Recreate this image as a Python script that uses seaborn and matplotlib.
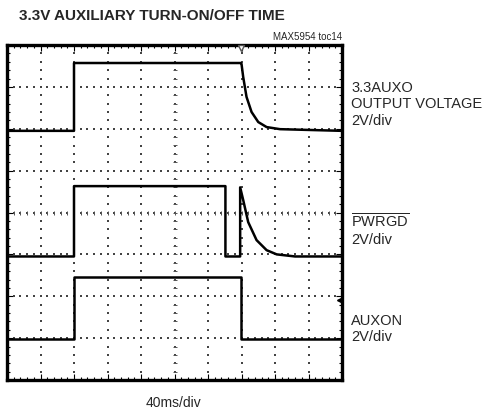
import numpy as np
import pandas as pd
import matplotlib
matplotlib.use("Agg")
import matplotlib.pyplot as plt
import seaborn as sns
from matplotlib import font_manager

# scope traces in divisions (x: 0-10 div, y: 0-8 div)
auxo_t = [0.0, 2.0, 2.0, 6.98, 7.0, 7.05, 7.15, 7.30, 7.50, 7.75, 8.15, 10.0]
auxo_v = [5.95, 5.95, 7.57, 7.57, 7.55, 7.24, 6.76, 6.40, 6.16, 6.04, 5.99, 5.95]

pwrgd_t = [0.0, 2.0, 2.0, 6.52, 6.52, 6.96, 6.96, 7.05, 7.20, 7.45, 7.75, 8.05, 8.6, 10.0]
pwrgd_v = [2.95, 2.95, 4.63, 4.63, 2.95, 2.95, 4.60, 4.30, 3.77, 3.34, 3.10, 3.00, 2.95, 2.95]

auxon_t = [0.0, 2.0, 2.0, 6.98, 6.98, 10.0]
auxon_v = [0.97, 0.97, 2.46, 2.46, 0.97, 0.97]

title = "3.3V AUXILIARY TURN-ON/OFF TIME"
note = "MAX5954 toc14"
labels = [("3.3AUXO\nOUTPUT VOLTAGE\n2V/div", 6.58), ("$\\overline{\\mathrm{PWRGD}}$\n2V/div", 3.58), ("AUXON\n2V/div", 1.22)]
xlabel = "40ms/div"

sns.set_style("white")
plt.rcParams['font.family'] = ['Liberation Sans', 'DejaVu Sans']
plt.rcParams['mathtext.fontset'] = 'custom'
plt.rcParams['mathtext.rm'] = 'Liberation Sans'

# narrow bold face for the title if it is there
names = {f.name for f in font_manager.fontManager.ttflist}
if 'Liberation Sans Narrow' in names:
    title_font = dict(family='Liberation Sans Narrow', fontsize=13)
else:
    title_font = dict(family='Liberation Sans', fontsize=11)

df = pd.concat([
    pd.DataFrame({"t": auxo_t, "v": auxo_v, "trace": "AUXO"}),
    pd.DataFrame({"t": pwrgd_t, "v": pwrgd_v, "trace": "PWRGD"}),
    pd.DataFrame({"t": auxon_t, "v": auxon_v, "trace": "AUXON"}),
], ignore_index=True)

fig = plt.figure(figsize=(4.92, 4.12), dpi=100)
ax = fig.add_axes([7 / 492, 32 / 412, 335 / 492, 335 / 412])

# graticule dots
gx, gy = [], []
for i in range(1, 10):
    for j in range(0, 41):
        gx.append(i); gy.append(j / 5)
for j in range(1, 8):
    for i in range(0, 51):
        gx.append(i / 5); gy.append(j)
ax.scatter(gx, gy, s=1.2, color="#444444", marker="s", linewidths=0, zorder=1)
# center crosshair ticks
ax.scatter(np.arange(0, 10.01, 0.2), np.full(51, 4.0), marker="|", s=12, color="#555555", linewidths=0.7, zorder=1)
ax.scatter(np.full(41, 5.0), np.arange(0, 8.01, 0.2), marker="_", s=12, color="#555555", linewidths=0.7, zorder=1)

sns.lineplot(data=df, x="t", y="v", hue="trace", units="trace", estimator=None, sort=False,
             palette=["black"] * 3, legend=False, linewidth=1.8, ax=ax, zorder=3)

# trigger marker and ground marker
ax.plot([6.98], [7.93], marker="v", markersize=5, markerfacecolor="white", markeredgecolor="#555555", clip_on=False, zorder=4)
ax.plot([9.93], [1.9], marker="<", markersize=4, color="black", zorder=4)

ax.set_xlim(0, 10)
ax.set_ylim(0, 8)
ax.set_xticks(np.arange(0, 10.01, 1))
ax.set_yticks(np.arange(0, 8.01, 1))
ax.set_xticks(np.arange(0, 10.01, 0.2), minor=True)
ax.set_yticks(np.arange(0, 8.01, 0.2), minor=True)
ax.tick_params(which="both", direction="in", top=True, right=True, bottom=True, left=True,
               labelbottom=False, labelleft=False, color="black")
ax.tick_params(which="major", length=4, width=0.8)
ax.tick_params(which="minor", length=2.5, width=0.8)
ax.set_xlabel(""); ax.set_ylabel("")
for s in ax.spines.values():
    s.set_linewidth(2.4)
    s.set_color("black")

fig.text(19 / 492, 1 - 16 / 412, title, fontweight="bold", ha="left", va="center", **title_font)
fig.text(342 / 492, 1 - 37 / 412, note, fontsize=7, ha="right", va="center")
for txt, yy in labels:
    ax.text(10.28, yy, txt, fontsize=10.5, ha="left", va="center", linespacing=1.2, transform=ax.transData, clip_on=False)
fig.text(174 / 492, 1 - 403 / 412, xlabel, fontsize=10, ha="center", va="center")

fig.savefig("out.png", dpi=100)
